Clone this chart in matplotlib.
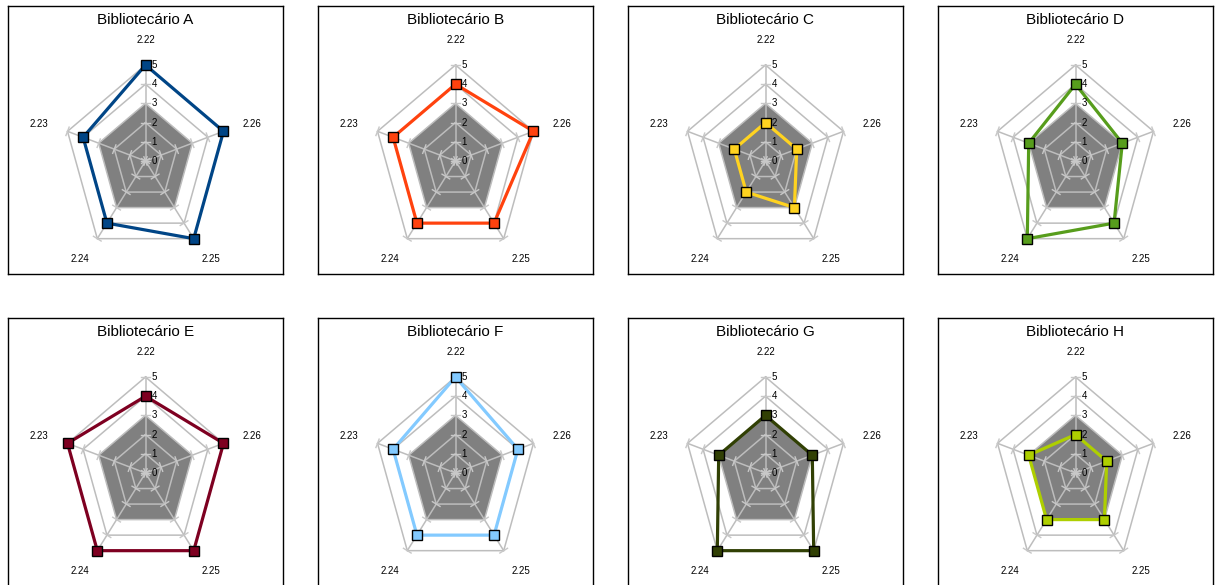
import numpy as np
import matplotlib
matplotlib.use('Agg')
import matplotlib.pyplot as plt

plt.rcParams['font.family'] = ['Liberation Sans Narrow', 'Liberation Sans', 'DejaVu Sans']

categories = ['2.22', '2.23', '2.24', '2.25', '2.26']
names = ['Bibliotecário A', 'Bibliotecário B', 'Bibliotecário C', 'Bibliotecário D',
         'Bibliotecário E', 'Bibliotecário F', 'Bibliotecário G', 'Bibliotecário H']

# scores per librarian, same order as categories
scoresA = [5, 4, 4, 5, 5]
scoresB = [4, 4, 4, 4, 5]
scoresC = [2, 2, 2, 3, 2]
scoresD = [4, 3, 5, 4, 3]
scoresE = [4, 5, 5, 5, 5]
scoresF = [5, 4, 4, 4, 4]
scoresG = [3, 3, 5, 5, 3]
scoresH = [2, 3, 3, 3, 2]
allScores = [scoresA, scoresB, scoresC, scoresD, scoresE, scoresF, scoresG, scoresH]

# reference band shaded in grey
refLevel = [3, 3, 3, 3, 3]
levels = [0, 1, 2, 3, 4, 5]

colours = ['#004586', '#ff420e', '#ffd320', '#579d1c', '#7e0021', '#83caff', '#314004', '#aecf00']

W, H = 1215, 585
panelW, panelH = 275, 268
lefts = [8, 318, 628, 938]
tops = [6, 318]
sx, sy = 16.4, 19.2      # pixels per unit along x and y
cTop = 155               # pixels from panel top down to the chart centre

angles = np.arange(5) * 2 * np.pi / 5


def to_xy(vals):
    vals = np.asarray(vals, dtype=float)
    x = -vals * np.sin(angles)
    y = vals * np.cos(angles)
    return np.append(x, x[0]), np.append(y, y[0])


fig = plt.figure(figsize=(W / 100, H / 100), dpi=100)

for idx in range(8):
    row, col = idx // 4, idx % 4
    left = lefts[col] / W
    bottom = 1 - (tops[row] + panelH) / H
    ax = fig.add_axes([left, bottom, panelW / W, panelH / H])
    ax.set_xlim(-panelW / 2 / sx, panelW / 2 / sx)
    ax.set_ylim(-(panelH - cTop) / sy, cTop / sy)
    ax.set_xticks([])
    ax.set_yticks([])
    for s in ax.spines.values():
        s.set_color('black')
        s.set_linewidth(1.0)

    # grey reference area
    fx, fy = to_xy(refLevel)
    ax.fill(fx, fy, color='#808080', lw=0, zorder=1)

    # pentagon grid and spokes
    for lv in levels[1:]:
        gx, gy = to_xy([lv] * 5)
        ax.plot(gx, gy, color='#bdbdbd', lw=1.1, zorder=2)
    for a in angles:
        ax.plot([0, -5 * np.sin(a)], [0, 5 * np.cos(a)], color='#bdbdbd', lw=1.1, zorder=2)

    # small tick marks across each spoke
    for a in angles:
        dx, dy = -np.sin(a) * sx, np.cos(a) * sy
        n = np.hypot(dx, dy)
        px, py = -dy / n * 4.5, dx / n * 4.5
        for lv in levels:
            cx, cy = -lv * np.sin(a), lv * np.cos(a)
            ax.plot([cx - px / sx, cx + px / sx], [cy - py / sy, cy + py / sy],
                    color='#c8c8c8', lw=1.0, zorder=2)

    # value axis labels
    for lv in levels:
        ax.text(6 / sx, lv, str(lv), fontsize=7, ha='left', va='center', zorder=5)

    # category labels
    lx, ly = to_xy([6.3] * 5)
    for i, cat in enumerate(categories):
        ax.text(lx[i] * 1.08, ly[i], cat, fontsize=7, ha='center', va='center')

    # librarian scores
    px_, py_ = to_xy(allScores[idx])
    ax.plot(px_, py_, color=colours[idx], lw=2.3, zorder=3)
    ax.plot(px_[:-1], py_[:-1], ls='none', marker='s', markersize=6.5,
            markerfacecolor=colours[idx], markeredgecolor='black', markeredgewidth=1.0, zorder=4)

    ax.text(0, (cTop - 14) / sy, names[idx], fontsize=11, ha='center', va='center')

fig.savefig('out.png', dpi=100)
